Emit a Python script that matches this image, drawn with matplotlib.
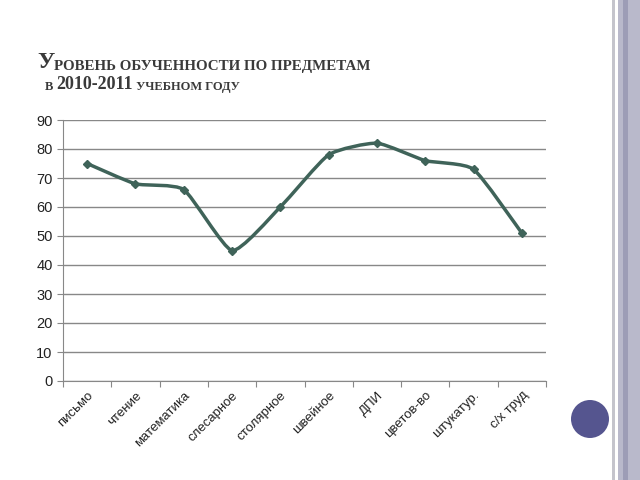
import numpy as np
import matplotlib.pyplot as plt
from matplotlib.path import Path
from matplotlib.patches import PathPatch, Rectangle, Circle

subjects = ['письмо', 'чтение', 'математика', 'слесарное', 'столярное',
            'швейное', 'ДПИ', 'цветов-во', 'штукатур.', 'с/х труд']
level = [75, 68, 66, 45, 60, 78, 82, 76, 73, 51]
y_ticks = [0, 10, 20, 30, 40, 50, 60, 70, 80, 90]

line_color = '#3f6359'
plt.rcParams['font.family'] = ['Liberation Sans', 'DejaVu Sans']

fig = plt.figure(figsize=(6.4, 4.8), dpi=100)
fig.patch.set_facecolor('white')

# slide decoration on the right
fig.add_artist(Rectangle((612 / 640, 0), 3 / 640, 1, transform=fig.transFigure,
                         color='#c4c4cc', lw=0))
fig.add_artist(Rectangle((618 / 640, 0), 22 / 640, 1, transform=fig.transFigure,
                         color='#b9b9cb', lw=0))
fig.add_artist(Rectangle((623 / 640, 0), 5 / 640, 1, transform=fig.transFigure,
                         color='#9d9db6', lw=0))
circ = Circle((590, 480 - 419), 19, transform=None, color='#55558f', lw=0)
fig.add_artist(circ)

ax = fig.add_axes([63 / 640, 1 - 381 / 480, 483 / 640, 261 / 480])
x = np.arange(len(subjects)) + 0.5
ax.set_xlim(0, len(subjects))
ax.set_ylim(0, 90)

# lightly smoothed line (Bezier through the points)
pts = np.column_stack([x, level]).astype(float)
verts = [tuple(pts[0])]
codes = [Path.MOVETO]
n = len(pts)
k = 0.09
for i in range(n - 1):
    p0 = pts[i - 1] if i > 0 else pts[i]
    p1, p2 = pts[i], pts[i + 1]
    p3 = pts[i + 2] if i + 2 < n else pts[i + 1]
    c1 = p1 + (p2 - p0) * k
    c2 = p2 - (p3 - p1) * k
    verts += [tuple(c1), tuple(c2), tuple(p2)]
    codes += [Path.CURVE4] * 3
ax.add_patch(PathPatch(Path(verts, codes), facecolor='none', edgecolor=line_color,
                       lw=2.5, zorder=3, capstyle='round', joinstyle='round'))
ax.plot(x, level, linestyle='none', marker='D', markersize=4.5, color=line_color, zorder=4)

ax.set_yticks(y_ticks)
ax.set_xticks(np.arange(len(subjects) + 1))
ax.set_xticklabels([])
ax.set_xticks(x, minor=True)
ax.set_xticklabels(subjects, minor=True, rotation=45, ha='right', rotation_mode='anchor',
                   fontsize=9.5, color='#222222')
ax.tick_params(axis='x', which='minor', length=0, pad=6)
ax.tick_params(axis='x', which='major', length=4, color='#888888', direction='out')
ax.tick_params(axis='y', length=4, color='#888888', labelsize=10.5, labelcolor='#222222')
ax.grid(axis='y', color='#888888', lw=1)
ax.set_axisbelow(True)
for s in ['top', 'right']:
    ax.spines[s].set_visible(False)
for s in ['left', 'bottom']:
    ax.spines[s].set_color('#888888')

# title in small caps
serif = ['Liberation Serif', 'DejaVu Serif']
tc = '#3a3a3a'
t = fig.text(37 / 640, 1 - 68 / 480, 'У', fontsize=17, fontweight='bold', family=serif,
             color=tc, va='baseline')
ax.annotate('РОВЕНЬ ОБУЧЕННОСТИ ПО ПРЕДМЕТАМ', xy=(1, 0), xycoords=t,
            fontsize=10.8, fontweight='bold', family=serif, color=tc, va='bottom',
            annotation_clip=False)
t2 = fig.text(45 / 640, 1 - 90 / 480, 'В ', fontsize=9, fontweight='bold', family=serif,
              color=tc, va='baseline')
t3 = ax.annotate('2010-2011', xy=(1, 0), xycoords=t2, fontsize=13, fontweight='bold',
                 family=serif, color=tc, va='bottom', annotation_clip=False)
ax.annotate(' УЧЕБНОМ ГОДУ', xy=(1, 0), xycoords=t3, fontsize=9, fontweight='bold',
            family=serif, color=tc, va='bottom', annotation_clip=False)

fig.savefig('out.png', dpi=100)
